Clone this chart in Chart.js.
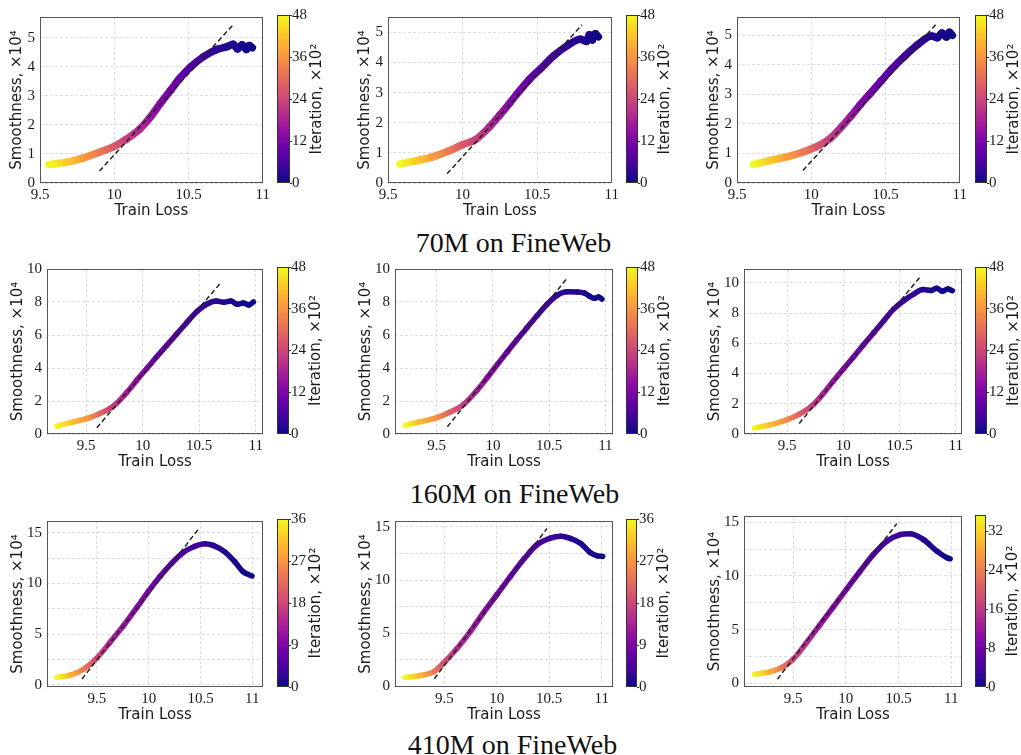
<!DOCTYPE html>
<html><head><meta charset="utf-8">
<script src="https://cdn.jsdelivr.net/npm/chart.js@4.4.1/dist/chart.umd.min.js"></script>
<style>
html,body{margin:0;padding:0;background:#fff;}
#wrap{position:relative;width:1021px;height:755px;overflow:hidden;background:#fff;}
canvas{position:absolute;}
.ttl{position:absolute;left:0;width:1021px;text-align:center;font-family:"Liberation Serif",serif;font-size:28px;color:#111;line-height:28px;white-space:nowrap;}
</style></head><body>
<div id="wrap">
<div class="ttl" style="left:3px;top:229px">70M on FineWeb</div>
<div class="ttl" style="left:4px;top:480px">160M on FineWeb</div>
<div class="ttl" style="left:2px;top:731px">410M on FineWeb</div>
</div>
<script>
// ---------------- DATA ----------------
const xTicks = [9.5, 10, 10.5, 11];
const yTicks70 = [0, 1, 2, 3, 4, 5];
const yTicks160 = [0, 2, 4, 6, 8, 10];
const yTicks410 = [0, 2.5, 5, 7.5, 10, 12.5, 15];
const cbTicks48 = [0, 12, 24, 36, 48];
const cbTicks36 = [0, 9, 18, 27, 36];
const cbTicks35 = [0, 8, 16, 24, 32];

// 70M on FineWeb
const loss70a   = [9.56, 9.68, 9.79, 9.90, 10.00, 10.08, 10.17, 10.24, 10.31, 10.38, 10.44, 10.51, 10.60, 10.69, 10.76, 10.80, 10.83, 10.86, 10.89, 10.91, 10.93];
const smooth70a = [0.64, 0.72, 0.86, 1.06, 1.26, 1.50, 1.85, 2.25, 2.74, 3.20, 3.60, 3.98, 4.35, 4.60, 4.70, 4.78, 4.62, 4.76, 4.60, 4.74, 4.66];
const iter70a   = [48, 43, 37, 32, 27, 23, 19, 16, 13, 11, 9, 7, 5, 3, 2, 1.5, 1.2, 0.9, 0.6, 0.3, 0];
const fit70aX = [9.90, 10.80], fit70aY = [0.41, 5.45];
const xLim70a = [9.5, 11], yLim70a = [0, 5.72];

const loss70b   = [9.58, 9.69, 9.80, 9.91, 10.00, 10.09, 10.18, 10.25, 10.32, 10.38, 10.45, 10.52, 10.61, 10.70, 10.79, 10.83, 10.85, 10.87, 10.89, 10.91];
const smooth70b = [0.63, 0.74, 0.87, 1.07, 1.27, 1.45, 1.86, 2.26, 2.68, 3.05, 3.45, 3.78, 4.22, 4.55, 4.77, 4.70, 4.92, 4.75, 4.95, 4.85];
const iter70b   = [48, 43, 37, 32, 27, 23, 19, 16, 13, 11, 9, 7, 5, 3, 1.8, 1.3, 1, 0.6, 0.3, 0];
const fit70bX = [9.896, 10.80], fit70bY = [0.305, 5.25];
const xLim70b = [9.5, 11], yLim70b = [0, 5.51];

const loss70c   = [9.61, 9.72, 9.84, 9.95, 10.04, 10.13, 10.20, 10.27, 10.33, 10.40, 10.47, 10.54, 10.63, 10.72, 10.81, 10.85, 10.88, 10.91, 10.93, 10.95];
const smooth70c = [0.63, 0.76, 0.89, 1.06, 1.24, 1.52, 1.88, 2.28, 2.65, 3.05, 3.45, 3.85, 4.30, 4.70, 4.98, 4.92, 5.08, 4.94, 5.10, 5.00];
const iter70c   = [48, 43, 37, 32, 27, 22, 19, 16, 13, 11, 9, 7, 5, 3, 1.8, 1.3, 1, 0.6, 0.3, 0];
const fit70cX = [9.944, 10.838], fit70cY = [0.424, 5.36];
const xLim70c = [9.5, 11], yLim70c = [0, 5.62];

// 160M on FineWeb
const loss160a   = [9.24, 9.39, 9.51, 9.62, 9.74, 9.86, 9.95, 10.04, 10.12, 10.21, 10.30, 10.39, 10.48, 10.57, 10.65, 10.72, 10.78, 10.84, 10.89, 10.94, 10.98];
const smooth160a = [0.48, 0.74, 0.94, 1.24, 1.68, 2.52, 3.28, 4.00, 4.65, 5.35, 6.05, 6.75, 7.42, 7.88, 8.06, 7.98, 8.06, 7.86, 7.94, 7.82, 8.00];
const iter160a   = [48, 41, 36, 29, 22, 17, 14, 12, 10, 8.5, 7, 5.5, 4.5, 3.5, 2.5, 1.8, 1.3, 0.9, 0.6, 0.3, 0];
const fit160aX = [9.594, 10.688], fit160aY = [0.38, 9.14];
const xLim160a = [9.153, 11.065], yLim160a = [0, 10];

const loss160b   = [9.22, 9.35, 9.50, 9.62, 9.74, 9.86, 9.95, 10.04, 10.13, 10.21, 10.30, 10.39, 10.48, 10.57, 10.66, 10.75, 10.81, 10.86, 10.90, 10.94, 10.97];
const smooth160b = [0.54, 0.74, 0.99, 1.33, 1.80, 2.66, 3.42, 4.22, 5.00, 5.68, 6.42, 7.15, 7.85, 8.40, 8.62, 8.61, 8.55, 8.35, 8.22, 8.30, 8.18];
const iter160b   = [48, 41, 35, 28, 22, 17, 14, 12, 10, 8.5, 7, 5.5, 4.5, 3.5, 2.5, 1.6, 1.1, 0.7, 0.4, 0.2, 0];
const fit160bX = [9.595, 10.652], fit160bY = [0.44, 9.38];
const xLim160b = [9.129, 11.068], yLim160b = [0, 10];

const loss160c   = [9.21, 9.35, 9.49, 9.61, 9.73, 9.82, 9.91, 10.00, 10.09, 10.18, 10.27, 10.36, 10.45, 10.54, 10.63, 10.71, 10.78, 10.83, 10.88, 10.93, 10.97];
const smooth160c = [0.39, 0.61, 0.92, 1.31, 1.92, 2.66, 3.50, 4.30, 5.10, 5.90, 6.70, 7.50, 8.28, 8.84, 9.28, 9.56, 9.50, 9.65, 9.45, 9.60, 9.48];
const iter160c   = [48, 41, 35, 28, 22, 18, 15, 13, 11, 9, 7.5, 6, 5, 4, 3, 2, 1.4, 1, 0.6, 0.3, 0];
const fit160cX = [9.607, 10.685], fit160cY = [0.70, 10.41];
const xLim160c = [9.116, 11.056], yLim160c = [0, 10.92];

// 410M on FineWeb
const loss410a   = [9.115, 9.244, 9.372, 9.50, 9.628, 9.756, 9.885, 9.997, 10.109, 10.221, 10.333, 10.446, 10.542, 10.622, 10.734, 10.83, 10.91, 10.997];
const smooth410a = [0.74, 0.97, 1.55, 2.65, 4.21, 5.83, 7.61, 9.22, 10.68, 11.97, 13.04, 13.66, 13.92, 13.75, 13.11, 12.14, 11.17, 10.74];
const iter410a   = [36, 30, 24, 18, 14, 12, 10, 8.5, 7, 5.5, 4.5, 3.5, 2.8, 2, 1.3, 0.8, 0.4, 0];
const fit410aX = [9.356, 10.487], fit410aY = [0.58, 15.44];
const xLim410a = [9.019, 11.103], yLim410a = [-0.2, 16.15];

const loss410b   = [9.12, 9.27, 9.40, 9.49, 9.62, 9.75, 9.87, 10.00, 10.13, 10.26, 10.38, 10.51, 10.61, 10.70, 10.80, 10.89, 10.96, 11.01];
const smooth410b = [0.84, 1.02, 1.39, 2.17, 3.56, 5.20, 6.90, 8.62, 10.35, 12.0, 13.3, 13.95, 14.12, 13.92, 13.45, 12.60, 12.28, 12.22];
const iter410b   = [36, 30, 24, 19, 15, 12.5, 10.5, 8.5, 7, 5.5, 4.3, 3.3, 2.5, 1.8, 1.2, 0.6, 0.3, 0];
const fit410bX = [9.404, 10.478], fit410bY = [0.71, 14.85];
const xLim410b = [9.029, 11.108], yLim410b = [-0.06, 15.56];

const loss410c   = [9.135, 9.278, 9.405, 9.50, 9.627, 9.754, 9.88, 10.007, 10.134, 10.26, 10.388, 10.515, 10.61, 10.737, 10.864, 10.96, 10.99];
const smooth410c = [0.86, 1.08, 1.54, 2.25, 3.80, 5.45, 7.10, 8.78, 10.42, 11.98, 13.23, 13.85, 13.94, 13.38, 12.31, 11.69, 11.6];
const iter410c   = [35, 29, 23, 18, 14, 11.5, 9.5, 8, 6.5, 5, 4, 3, 2.3, 1.5, 0.8, 0.3, 0];
const fit410cX = [9.351, 10.483], fit410cY = [0.40, 14.86];
const xLim410c = [9.034, 11.102], yLim410c = [-0.33, 15.58];

const cbMax48 = 48, cbMax36 = 36, cbMax35 = 35.4;

// ---------------- PANELS (data refs + layout) ----------------
const PANELS = [
 {loss:loss70a, sm:smooth70a, it:iter70a, fx:fit70aX, fy:fit70aY, xl:xLim70a, yl:yLim70a, yt:yTicks70, cbt:cbTicks48, cbm:cbMax48,
  plot:[40,15,263,183], cb:[277,290,15,183], W:40, lw:7.5},
 {loss:loss70b, sm:smooth70b, it:iter70b, fx:fit70bX, fy:fit70bY, xl:xLim70b, yl:yLim70b, yt:yTicks70, cbt:cbTicks48, cbm:cbMax48,
  plot:[388,15,612,183], cb:[626,638,15,183], W:40, lw:7.5},
 {loss:loss70c, sm:smooth70c, it:iter70c, fx:fit70cX, fy:fit70cY, xl:xLim70c, yl:yLim70c, yt:yTicks70, cbt:cbTicks48, cbm:cbMax48,
  plot:[737,15,960,183], cb:[975,987,15,183], W:40, lw:7.5},
 {loss:loss160a, sm:smooth160a, it:iter160a, fx:fit160aX, fy:fit160aY, xl:xLim160a, yl:yLim160a, yt:yTicks160, cbt:cbTicks48, cbm:cbMax48,
  plot:[47,267,263,434], cb:[277,289,267,434], W:47, lw:5.5},
 {loss:loss160b, sm:smooth160b, it:iter160b, fx:fit160bX, fy:fit160bY, xl:xLim160b, yl:yLim160b, yt:yTicks160, cbt:cbTicks48, cbm:cbMax48,
  plot:[395,267,613,434], cb:[626,638,267,434], W:47, lw:5.5},
 {loss:loss160c, sm:smooth160c, it:iter160c, fx:fit160cX, fy:fit160cY, xl:xLim160c, yl:yLim160c, yt:yTicks160, cbt:cbTicks48, cbm:cbMax48,
  plot:[744,267,962,434], cb:[975,987,267,434], W:47, lw:5.5},
 {loss:loss410a, sm:smooth410a, it:iter410a, fx:fit410aX, fy:fit410aY, xl:xLim410a, yl:yLim410a, yt:yTicks410, cbt:cbTicks36, cbm:cbMax36,
  plot:[47,519,263,687], cb:[277,289,519,687], W:47, lw:5.5},
 {loss:loss410b, sm:smooth410b, it:iter410b, fx:fit410bX, fy:fit410bY, xl:xLim410b, yl:yLim410b, yt:yTicks410, cbt:cbTicks36, cbm:cbMax36,
  plot:[395,519,613,687], cb:[626,637,519,687], W:47, lw:5.5},
 {loss:loss410c, sm:smooth410c, it:iter410c, fx:fit410cX, fy:fit410cY, xl:xLim410c, yl:yLim410c, yt:yTicks410, cbt:cbTicks35, cbm:cbMax35,
  plot:[744,514,962,687], cb:[975,986,515,687], W:47, lw:5.5},
];

// ---------------- HELPERS ----------------
const PLASMA = ['#0d0887','#41049d','#6a00a8','#8f0da4','#b12a90','#cc4778','#e16462','#f2844b','#fca636','#fcce25','#f0f921'];
function hexRgb(h){return [parseInt(h.slice(1,3),16),parseInt(h.slice(3,5),16),parseInt(h.slice(5,7),16)];}
const PL_RGB = PLASMA.map(hexRgb);
function plasma(t){
  t = Math.max(0, Math.min(1, t));
  const s = t*10, i = Math.min(9, Math.floor(s)), f = s - i;
  const a = PL_RGB[i], b = PL_RGB[i+1];
  return 'rgb(' + [0,1,2].map(k => Math.round(a[k] + (b[k]-a[k])*f)).join(',') + ')';
}
const TXT = '#1a1a1a';
const SERIF = '"Liberation Serif", "DejaVu Serif", serif';
const SANS = '"DejaVu Sans", sans-serif';
function fmt(v){ return String(Math.round(v*100)/100); }

function rectPlugin(id, color){
  return {
    id: id,
    afterDatasetsDraw(chart){
      const a = chart.chartArea, c = chart.ctx;
      c.save(); c.strokeStyle = color; c.lineWidth = 1;
      c.strokeRect(Math.round(a.left)+0.5, Math.round(a.top)+0.5, Math.round(a.right-a.left)-1, Math.round(a.bottom-a.top)-1);
      c.restore();
    }
  };
}
const framePlugin = rectPlugin('frame', '#555');
const cbFramePlugin = rectPlugin('cbframe', '#333');
const cbLabelPlugin = {
  id:'cblabel',
  afterDraw(chart){
    const a = chart.chartArea, c = chart.ctx;
    c.save();
    c.translate(a.right + 27, (a.top + a.bottom)/2);
    c.rotate(-Math.PI/2);
    c.font = '15px ' + SANS; c.fillStyle = TXT;
    c.textAlign = 'center'; c.textBaseline = 'middle';
    c.fillText('Iteration, ×10²', 0, 0);
    c.restore();
  }
};

const wrap = document.getElementById('wrap');
function mkCanvas(l, t, w, h){
  const cv = document.createElement('canvas');
  cv.width = w; cv.height = h;
  cv.style.left = l + 'px'; cv.style.top = t + 'px';
  cv.style.width = w + 'px'; cv.style.height = h + 'px';
  wrap.appendChild(cv);
  return cv;
}

PANELS.forEach(p => {
  const [pl, pt, pr, pb] = p.plot;
  const W = p.W, PADT = 12, PADR = 10, H = 40;
  const left = pl - W, top = pt - PADT;
  const cv = mkCanvas(left, top, pr - left + PADR, pb + H - top);
  const pts = p.loss.map((x, i) => ({x: x, y: p.sm[i], it: p.it[i]}));
  const fitPts = p.fx.map((x, i) => ({x: x, y: p.fy[i]}));
  const maxIt = p.cbm;
  new Chart(cv, {
    type: 'line',
    data: { datasets: [
      { data: fitPts, borderColor: '#222', borderWidth: 1.5, borderDash: [5, 3], pointRadius: 0, fill: false },
      { data: pts, borderWidth: p.lw, pointRadius: 0, fill: false, cubicInterpolationMode: 'monotone',
        borderCapStyle: 'round', borderJoinStyle: 'round', borderColor: plasma(0),
        segment: { borderColor: c => {
          const a = pts[c.p0DataIndex], b = pts[c.p1DataIndex];
          const g = c.chart.ctx.createLinearGradient(c.p0.x, c.p0.y, c.p1.x, c.p1.y);
          g.addColorStop(0, plasma(a.it / maxIt));
          g.addColorStop(1, plasma(b.it / maxIt));
          return g;
        } } }
    ] },
    options: {
      responsive: false, animation: false, devicePixelRatio: 1,
      layout: { padding: { top: PADT, right: PADR, left: 0, bottom: 0 } },
      plugins: { legend: { display: false }, tooltip: { enabled: false } },
      elements: { point: { radius: 0 } },
      scales: {
        x: { type: 'linear', min: p.xl[0], max: p.xl[1],
          afterBuildTicks: s => { s.ticks = xTicks.map(v => ({value: v})); },
          afterFit: s => { s.height = H; },
          grid: { color: '#d4d4d4', lineWidth: 0.8, drawTicks: false },
          border: { display: false, dash: [3, 2] },
          ticks: { padding: 3, autoSkip: false, maxRotation: 0, color: TXT, font: { family: SERIF, size: 15 }, callback: v => fmt(v) },
          title: { display: true, text: 'Train Loss', color: TXT, font: { family: SANS, size: 15 }, padding: { top: 0, bottom: 2.5 } }
        },
        y: { type: 'linear', min: p.yl[0], max: p.yl[1],
          afterBuildTicks: s => { s.ticks = p.yt.map(v => ({value: v})); },
          afterFit: s => { s.width = W; },
          grid: { color: '#d4d4d4', lineWidth: 0.8, drawTicks: false },
          border: { display: false, dash: [3, 2] },
          ticks: { padding: 5, autoSkip: false, color: TXT, font: { family: SERIF, size: 15 },
            callback: v => (p.yt === yTicks410 && v % 5 !== 0) ? '' : fmt(v) },
          title: { display: true, text: 'Smoothness, ×10⁴', color: TXT, font: { family: SANS, size: 15 }, padding: { top: W === 40 ? 8 : 9, bottom: 0 } }
        }
      }
    },
    plugins: [framePlugin]
  });

  // colorbar
  const [cl, cr, ct, cbm] = p.cb;
  const CW = 46, CP = 10;
  const cv2 = mkCanvas(cl, ct - CP, (cr - cl) + CW, (cbm - ct) + 2*CP);
  new Chart(cv2, {
    type: 'bar',
    data: { labels: ['Iteration'], datasets: [{
      data: [[0, p.cbm]], borderWidth: 0, barPercentage: 1, categoryPercentage: 1,
      backgroundColor: c => {
        const a = c.chart.chartArea;
        if (!a) return PLASMA[0];
        const g = c.chart.ctx.createLinearGradient(0, a.bottom, 0, a.top);
        PLASMA.forEach((col, i) => g.addColorStop(i / 10, col));
        return g;
      }
    }] },
    options: {
      responsive: false, animation: false, devicePixelRatio: 1,
      layout: { padding: { top: CP, bottom: CP, left: 0, right: 0 } },
      plugins: { legend: { display: false }, tooltip: { enabled: false } },
      scales: {
        x: { display: false },
        y: { position: 'right', min: 0, max: p.cbm,
          afterBuildTicks: s => { s.ticks = p.cbt.map(v => ({value: v})); },
          afterFit: s => { s.width = CW; },
          grid: { display: true, drawOnChartArea: false, drawTicks: true, tickLength: 2, color: '#333', lineWidth: 1 },
          border: { display: false },
          ticks: { padding: 0, autoSkip: false, color: TXT, font: { family: SERIF, size: 15 }, callback: v => fmt(v) }
        }
      }
    },
    plugins: [cbFramePlugin, cbLabelPlugin]
  });
});
</script>
</body></html>
